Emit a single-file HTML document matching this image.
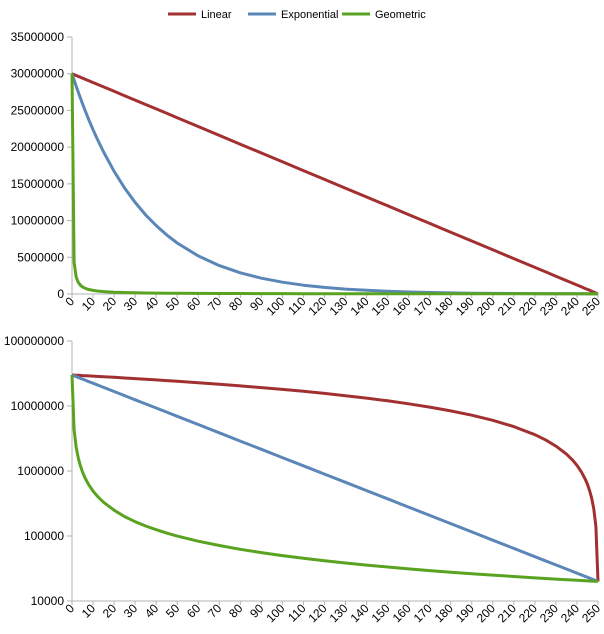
<!DOCTYPE html>
<html><head><meta charset="utf-8"><style>
body{margin:0;background:#fff;font-family:"Liberation Sans",sans-serif}
</style></head><body>
<svg id="c" width="604" height="634" style="display:block"></svg>
<script>
const steps=[0,1,2,3,4,5,6,7,8,10,12,15,20,25,30,35,40,45,50,60,70,80,90,100,110,120,130,140,150,160,170,180,190,200,210,220,225,230,235,238,240,242,244,245,246,247,248,249,250];
const linear=[30000000,29880000,29760000,29640000,29520320,29400000,29280480,29161000,29040640,28801000,28560960,28201000,27602000,27002000,26402000,25802800,25203000,24603600,24004000,22805000,21606000,20406000,19207000,18008000,16808800,15610000,14410400,13211000,12012000,10813000,9613600,8414000,7215200,6016000,4816800,3618000,3018000,2418400,1818800,1459040,1219000,979360,739520,620000,499680,379760,260000,140000,20000];
const exponential=[30000000,29135000,28295000,27479000,26687000,25917000,25171000,24445000,23741000,22391000,21119000,19344000,16712000,14438000,12473000,10776000,9309000,8043000,6948000,5186000,3870000,2889000,2156000,1609000,1201600,896000,669400,499000,372900,278000,207700,155000,115700,86300,64450,48100,41570,35920,31030,28430,26800,25290,23860,23200,22500,21850,21200,20600,20000];
const geometric=[30000000,4286000,2308000,1579000,1201000,968000,811300,698000,612600,492000,411200,330000,249000,198800,166000,142300,125000,110800,99700,83100,71300,62400,55500,49900,45410,41600,38440,35700,33320,31200,29400,27700,26310,25000,23810,22700,22220,21740,21280,21010,20830,20660,20490,20410,20330,20240,20160,20080,20000];
const xTicks=[0,10,20,30,40,50,60,70,80,90,100,110,120,130,140,150,160,170,180,190,200,210,220,230,240,250];
const linTicks=[0,5000000,10000000,15000000,20000000,25000000,30000000,35000000];
const logTicks=[10000,100000,1000000,10000000,100000000];
const names=["Linear","Exponential","Geometric"];
const colors=["#a33031","#5b86b8","#5aa320"];
const series=[linear,exponential,geometric];
const svg=document.getElementById('c');const NS='http://www.w3.org/2000/svg';
function el(t,a,p){const e=document.createElementNS(NS,t);for(const k in a)e.setAttribute(k,a[k]);(p||svg).appendChild(e);return e;}
const X0=72,X1=598;
const sx=v=>X0+(X1-X0)*v/250;
const syTop=v=>294-(294-37)*v/35000000;
const syLog=v=>601-(601-341)*(Math.log10(v)-4)/4;
function axes(sy,ticks,yAx,label){
  const g=el('g',{});
  
  
  el('line',{x1:X0,y1:sy(ticks[0]),x2:X0,y2:sy(ticks[ticks.length-1]),stroke:'#b3b3b3'},g);
  el('line',{x1:X0-5,y1:yAx,x2:X1,y2:yAx,stroke:'#b3b3b3'},g);
  ticks.forEach(t=>{const y=sy(t);
    el('line',{x1:X0-5,y1:y,x2:X0,y2:y,stroke:'#b3b3b3'},g);
    const tx=el('text',{x:X0-8,y:y+4,'text-anchor':'end','font-size':12,fill:'#000'},g);tx.textContent=t;
    
    
  });
  xTicks.forEach(t=>{const x=sx(t);
    el('line',{x1:x,y1:yAx,x2:x,y2:yAx+4,stroke:'#b3b3b3'},g);
    const tx=el('text',{x:x+3,y:yAx+8,'text-anchor':'end','font-size':12,fill:'#000',transform:`rotate(-45 ${x+3} ${yAx+8})`},g);tx.textContent=t;
    
    
  });
}
axes(syTop,linTicks,294,'top');
axes(syLog,logTicks,601,'bottom');
function lines(sy,label){
  series.forEach((s,i)=>{
    const d=steps.map((st,j)=>(j?'L':'M')+sx(st).toFixed(1)+','+sy(s[j]).toFixed(1)).join('');
    const p=el('path',{d:d,fill:'none',stroke:colors[i],'stroke-width':3,'stroke-linejoin':'round'});
    
    
  });
}
lines(syTop,'top');
lines(syLog,'bottom');
const lx=[168,248,342];
names.forEach((n,i)=>{
  const g=el('g',{});
  
  
  el('line',{x1:lx[i],y1:14,x2:lx[i]+28,y2:14,stroke:colors[i],'stroke-width':3},g);
  const t=el('text',{x:lx[i]+33,y:18,'font-size':11,fill:'#000'},g);t.textContent=n;
});
</script>
</body></html>
